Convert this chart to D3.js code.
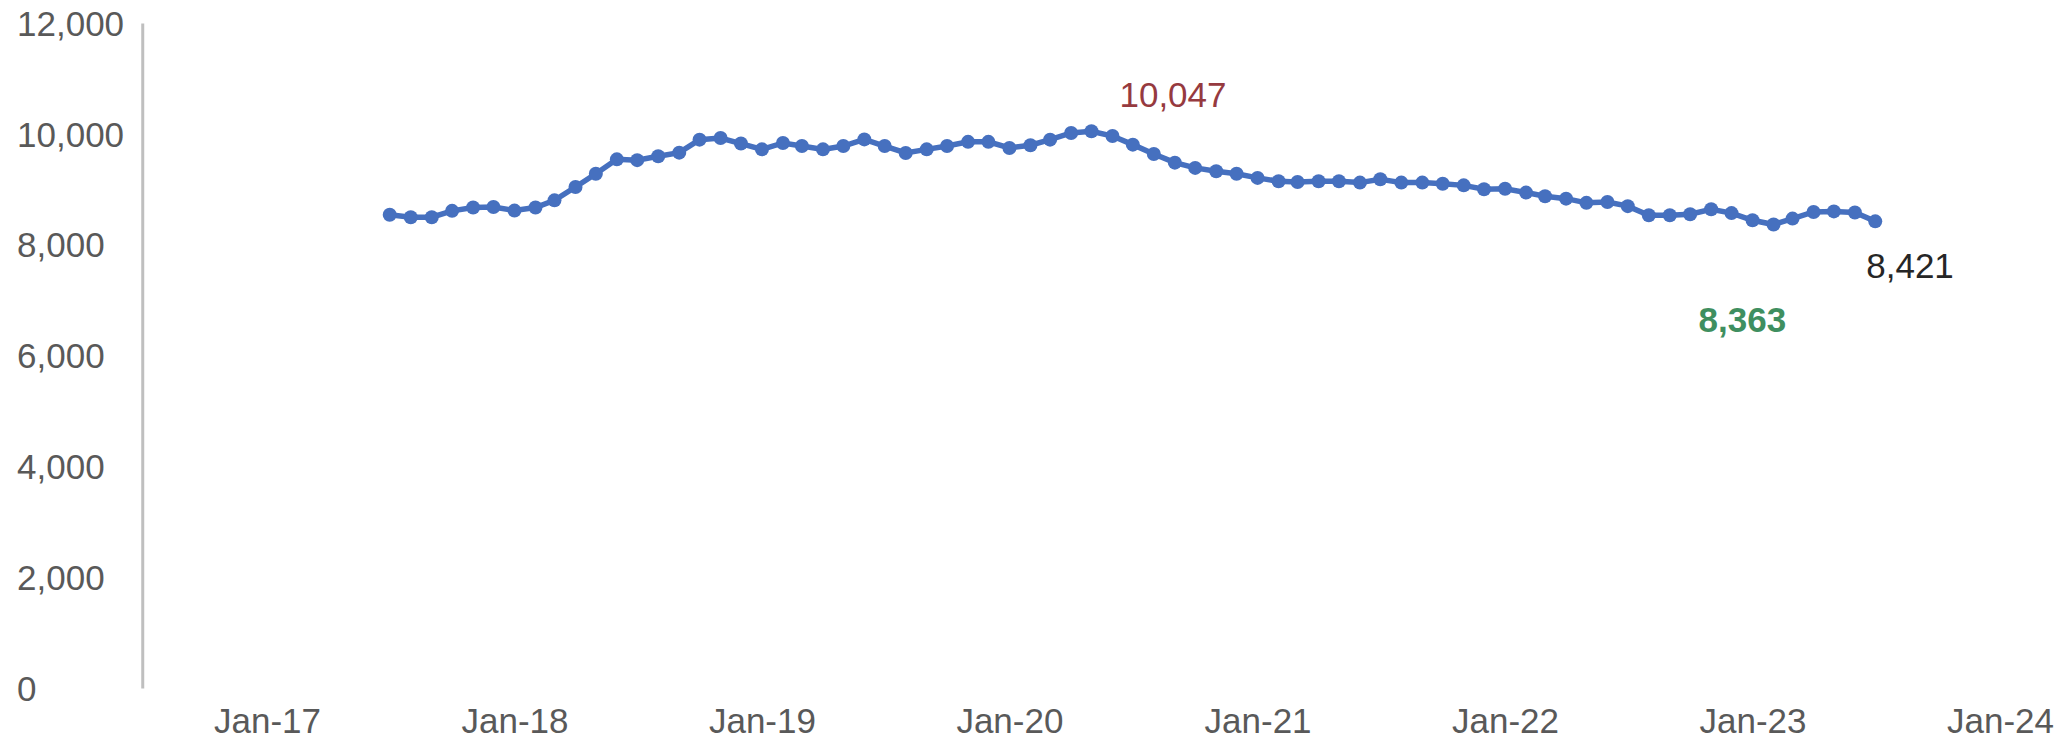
<!DOCTYPE html>
<html lang="en">
<head>
<meta charset="utf-8">
<title>Monthly series Jul-17 to Jul-23</title>
<script src="https://cdn.jsdelivr.net/npm/d3@7"></script>
<style>
    body { margin: 0; background: #ffffff; }
    svg { display: block; }
    .tick text { font-family: "Liberation Sans", Arial, sans-serif; font-size: 35px; fill: #595959; }
    .note { font-family: "Liberation Sans", Arial, sans-serif; font-size: 35px; }
</style>
</head>
<body>
<div id="chart"></div>
<script>
// monthly values, Jul 2017 .. Jul 2023
var values = [
    8540, 8495, 8495, 8610, 8670, 8680,
    8615, 8670, 8800, 9040, 9280, 9540, 9525, 9595, 9660, 9895, 9925, 9825,
    9720, 9835, 9780, 9720, 9780, 9900, 9780, 9655, 9720, 9780, 9855, 9855,
    9745, 9795, 9895, 10015, 10047, 9960, 9805, 9635, 9480, 9385, 9325, 9280,
    9205, 9145, 9130, 9145, 9145, 9120, 9180, 9120, 9120, 9100, 9070, 9000,
    9010, 8940, 8875, 8830, 8755, 8770, 8695, 8530, 8530, 8550, 8640, 8570,
    8440, 8363, 8470, 8590, 8600, 8580, 8421
];
var months = d3.timeMonth.range(new Date(2017, 6, 1), new Date(2023, 7, 1));
var yTicks = [0, 2000, 4000, 6000, 8000, 10000, 12000];
var xTickYears = [2017, 2018, 2019, 2020, 2021, 2022, 2023, 2024];

// callouts: index into values, text, colour
var callouts = [
    {i: 34, text: "10,047", color: "#963a3f", weight: "normal", dx: 28, dy: -24},
    {i: 67, text: "8,363", color: "#3f8f60", weight: "bold", dx: -75, dy: 107},
    {i: 72, text: "8,421", color: "#262626", weight: "normal", dx: -9, dy: 57}
];

var width = 2070, height = 741;

var data = months.map(function(d, k) { return {date: d, value: values[k]}; });

var svg = d3.select("#chart").append("svg")
    .attr("width", width)
    .attr("height", height);

var x = d3.scaleTime()
    .domain([new Date(2017, 0, 1), new Date(2024, 0, 1)])
    .range([267, 2000]);

var y = d3.scaleLinear()
    .domain([0, 12000])
    .range([688, 23]);

var axisX = x(new Date(2016, 6, 1));

// y axis
var yAxis = svg.append("g")
    .attr("transform", "translate(" + axisX + ",0)")
    .call(d3.axisLeft(y).tickValues(yTicks).tickSize(0).tickSizeOuter(0).tickFormat(d3.format(",")));
yAxis.select(".domain").attr("stroke", "#bfbfbf").attr("stroke-width", 3);
yAxis.selectAll(".tick text")
    .attr("text-anchor", "start")
    .attr("x", 17 - axisX)
    .attr("dy", "0.35em");

// x axis (labels only)
var xAxis = svg.append("g")
    .attr("transform", "translate(0," + y(0) + ")")
    .call(d3.axisBottom(x)
        .tickValues(xTickYears.map(function(yr) { return new Date(yr, 0, 1); }))
        .tickSize(0)
        .tickFormat(d3.timeFormat("%b-%y")));
xAxis.select(".domain").remove();
xAxis.selectAll(".tick text").attr("y", 45).attr("dy", 0);

// line
var line = d3.line()
    .x(function(d) { return x(d.date); })
    .y(function(d) { return y(d.value); });

svg.append("path")
    .datum(data)
    .attr("fill", "none")
    .attr("stroke", "#4670bf")
    .attr("stroke-width", 5.5)
    .attr("d", line);

svg.selectAll(".dot")
    .data(data)
    .enter().append("circle")
    .attr("class", "dot")
    .attr("cx", function(d) { return x(d.date); })
    .attr("cy", function(d) { return y(d.value); })
    .attr("r", 7)
    .attr("fill", "#4670bf");

// value callouts
svg.selectAll(".note")
    .data(callouts)
    .enter().append("text")
    .attr("class", "note")
    .attr("x", function(c) { return x(data[c.i].date) + c.dx; })
    .attr("y", function(c) { return y(data[c.i].value) + c.dy; })
    .attr("fill", function(c) { return c.color; })
    .attr("font-weight", function(c) { return c.weight; })
    .text(function(c) { return c.text; });
</script>
</body>
</html>
